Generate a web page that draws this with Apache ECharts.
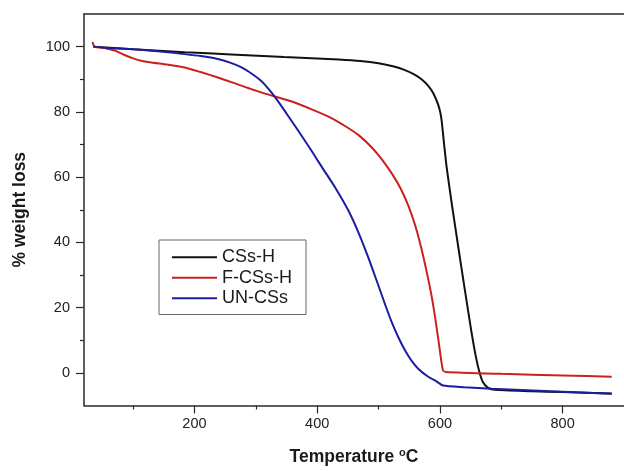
<!DOCTYPE html>
<html>
<head>
<meta charset="utf-8">
<script src="https://cdn.jsdelivr.net/npm/echarts@6/dist/echarts.min.js"></script>
<style>html,body{margin:0;padding:0;background:#fff}#chart{width:624px;height:471px}</style>
</head>
<body>
<div id="chart"></div>
<script>
// Series data: [temperature °C, % weight]
const csH = [[35,100],[100,99.2],[184,98.3],[260,97.6],[346,96.8],[400,96.35],[435,96.05],[470,95.6],[500,94.9],[525,93.9],[543,92.8],[558,91.5],[570,90],[581,88],[589,85.8],[597,82.3],[601,79.5],[603,77],[607,69.8],[611,63],[620,51],[630,38.5],[640,26.2],[651,13],[658,5.5],[664,0.5],[670,-2.8],[678,-4.5],[690,-5.2],[750,-5.6],[800,-5.9],[880,-6.3]];
const fcsH = [[34,101.4],[37,100],[55,99.5],[70,98.8],[85,97.5],[100,96.4],[115,95.6],[130,95.1],[155,94.5],[184,93.6],[210,92.2],[237,90.6],[265,88.8],[292,87],[315,85.6],[335,84.5],[360,83.1],[392,80.7],[420,78.4],[446,75.6],[468,72.8],[489,69.1],[506,65.3],[522,61],[536,56.5],[549,51],[560,45],[570,38],[579,30.5],[587,23],[593,16],[598,9.5],[602,4],[605,0.8],[609,0.3],[700,-0.3],[800,-0.8],[880,-1.2]];
const unCSs = [[35,100],[60,99.6],[95,99.3],[140,98.6],[184,97.7],[210,97.1],[238,96.2],[258,95.1],[276,93.7],[294,91.6],[308,89.6],[320,87.2],[335,83.6],[350,79.5],[370,74],[390,68.3],[408,63],[430,56.6],[451,49.7],[468,42.7],[484,35],[498,27.7],[511,20.8],[522,15.3],[533,10.6],[544,6.6],[554,3.7],[565,1.2],[581,-1.2],[595,-2.7],[605,-3.9],[640,-4.4],[684,-4.9],[800,-5.8],[880,-6.4]];
const seriesNames = ['CSs-H','F-CSs-H','UN-CSs'];
const xMajorTicks = [200,400,600,800];
const xMinorTicks = [100,300,500,700];
const yMajorTicks = [0,20,40,60,80,100];
const yMinorTicks = [10,30,50,70,90];

const chart = echarts.init(document.getElementById('chart'), null, {renderer:'canvas'});
const font = 'Arial, "Liberation Sans", sans-serif';
const axisCol = '#2a2a2a';
const colors = ['#111111','#cc1f1f','#1c1ca3'];

function mkSeries(i, data){
  return {name:seriesNames[i], type:'line', data:data, smooth:0.2, symbol:'none',
    lineStyle:{color:colors[i], width:2}, itemStyle:{color:colors[i]}};
}

chart.setOption({
  animation:false,
  backgroundColor:'#fff',
  textStyle:{fontFamily:font},
  grid:{left:84, right:-3, top:14, bottom:58.3, show:false},
  legend:{
    data:seriesNames, orient:'vertical', left:159, top:240,
    icon:'rect', itemWidth:45, itemHeight:2.2, itemGap:0,
    padding:[7,14,6,13], borderColor:'#666', borderWidth:1,
    textStyle:{fontSize:18, color:'#1a1a1a', fontFamily:font, lineHeight:20.5}
  },
  xAxis:[{
    type:'value', min:20, max:900,
    name:'Temperature {sup|o}C', nameLocation:'middle', nameGap:42,
    nameTextStyle:{fontSize:17.5, fontWeight:'bold', color:'#1a1a1a', fontFamily:font,
      rich:{sup:{fontSize:11, fontWeight:'bold', verticalAlign:'top', padding:[0,0,8,0], color:'#1a1a1a'}}},
    axisLine:{show:true, onZero:false, lineStyle:{color:axisCol, width:1.5}},
    axisTick:{show:true, length:8, customValues:xMajorTicks, lineStyle:{color:axisCol, width:1.2}},
    axisLabel:{customValues:xMajorTicks, margin:11, fontSize:14.5, color:'#222', fontFamily:font},
    splitLine:{show:false}
  },{
    type:'value', min:20, max:900, position:'bottom',
    axisLine:{show:false, onZero:false},
    axisTick:{show:true, length:4, customValues:xMinorTicks, lineStyle:{color:axisCol, width:1.2}},
    axisLabel:{show:false}, splitLine:{show:false}
  },{
    type:'value', min:20, max:900, position:'top',
    axisLine:{show:true, onZero:false, lineStyle:{color:axisCol, width:1.5}},
    axisTick:{show:false}, axisLabel:{show:false}, splitLine:{show:false}
  }],
  yAxis:[{
    type:'value', min:-10, max:110,
    name:'% weight loss', nameLocation:'middle', nameGap:55,
    nameTextStyle:{fontSize:17.5, fontWeight:'bold', color:'#1a1a1a', fontFamily:font},
    axisLine:{show:true, onZero:false, lineStyle:{color:axisCol, width:1.5}},
    axisTick:{show:true, length:8, customValues:yMajorTicks, lineStyle:{color:axisCol, width:1.2}},
    axisLabel:{customValues:yMajorTicks, margin:14, fontSize:14.5, color:'#222', fontFamily:font},
    splitLine:{show:false}
  },{
    type:'value', min:-10, max:110, position:'left',
    axisLine:{show:false, onZero:false},
    axisTick:{show:true, length:4, customValues:yMinorTicks, lineStyle:{color:axisCol, width:1.2}},
    axisLabel:{show:false}, splitLine:{show:false}
  }],
  series:[mkSeries(0, csH), mkSeries(1, fcsH), mkSeries(2, unCSs)]
});
</script>
</body>
</html>
